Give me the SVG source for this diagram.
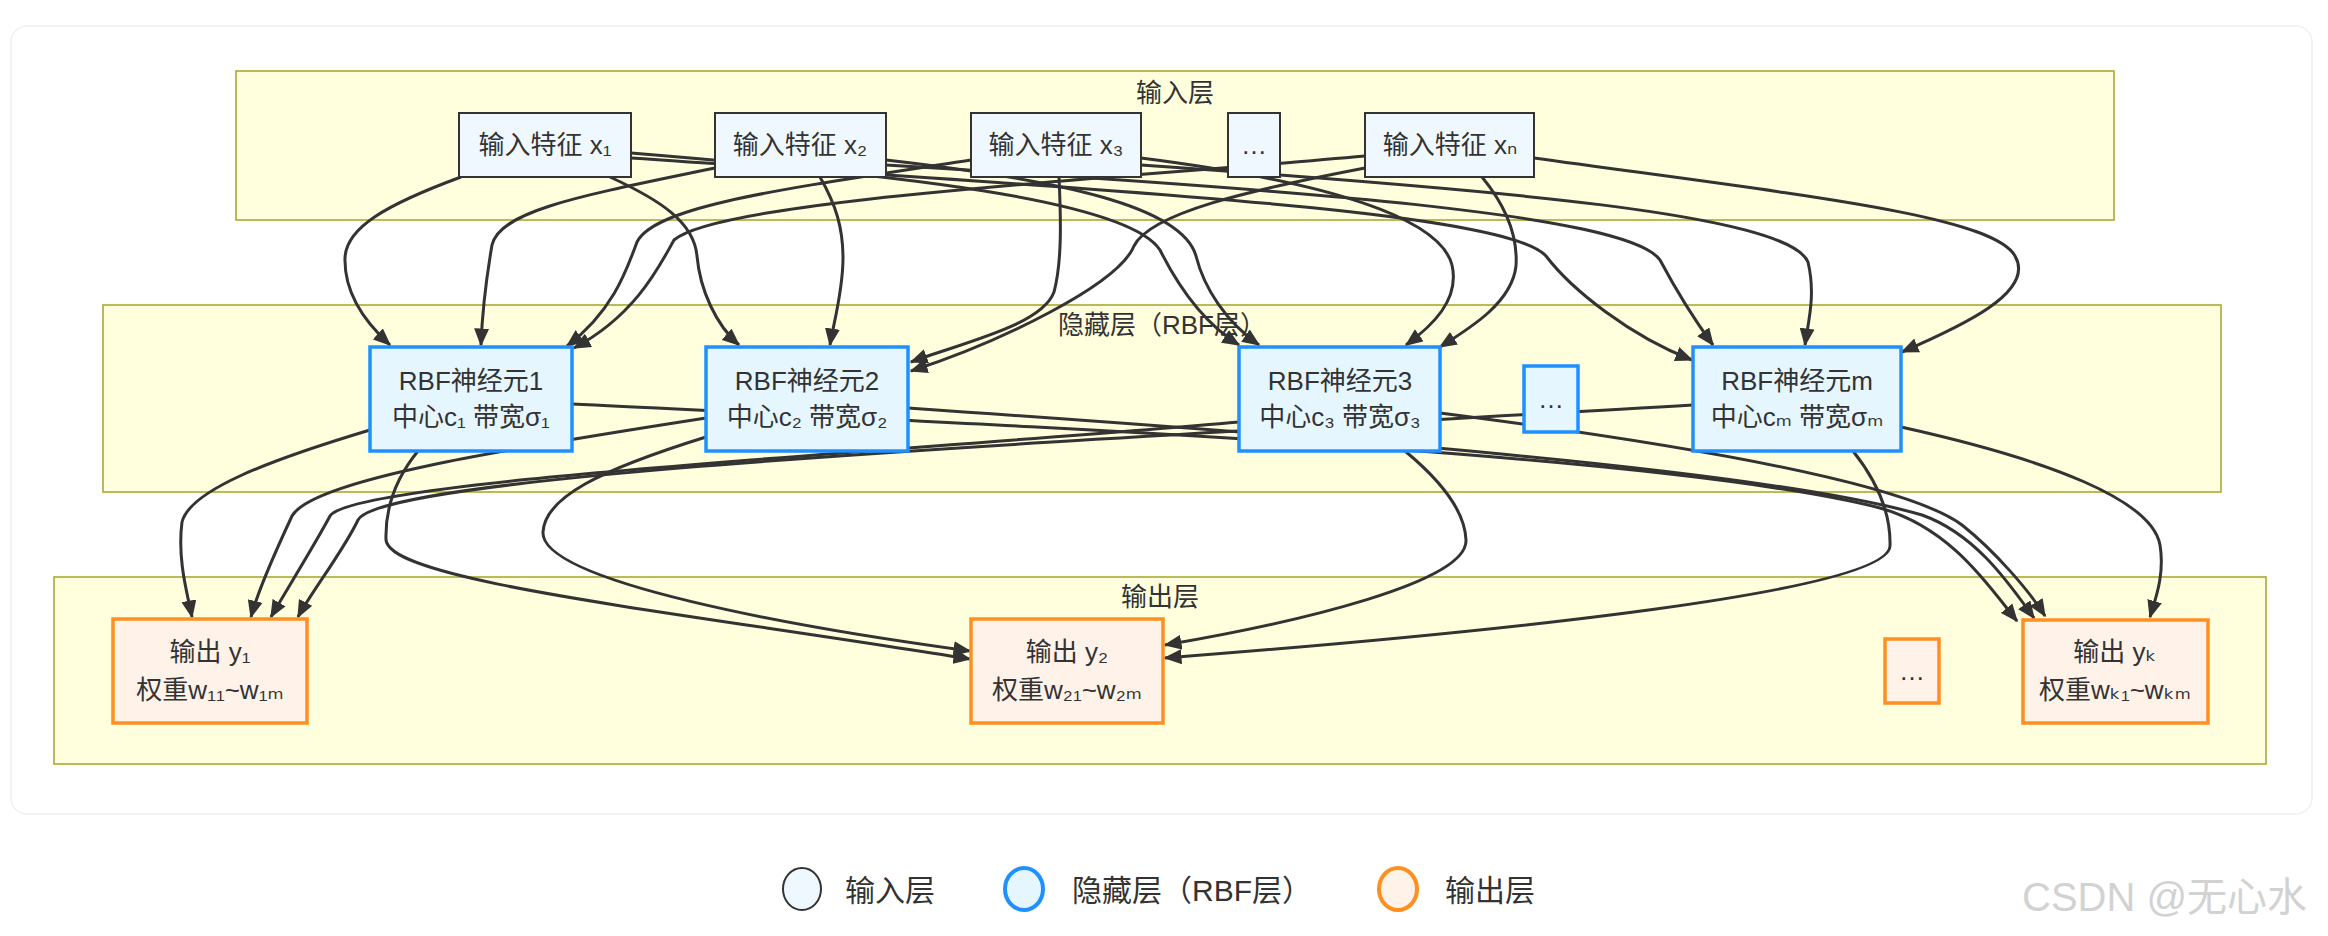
<svg xmlns="http://www.w3.org/2000/svg" width="2328" height="936" viewBox="0 0 2328 936">
<defs>
<marker id="arr" viewBox="0 0 12 10" refX="11" refY="5" markerWidth="18" markerHeight="15" markerUnits="userSpaceOnUse" orient="auto"><path d="M0,0 L12,5 L0,10 z" fill="#333"/></marker>
</defs>
<style>
text{font-family:"Liberation Sans","Noto Sans CJK SC","DejaVu Sans",sans-serif;fill:#333;}
.t{font-size:26px;text-anchor:middle;dominant-baseline:central;}
.cl{fill:#ffffde;stroke:#aaaa33;stroke-width:1.6;}
.in{fill:#f0f8ff;stroke:#333;stroke-width:2;}
.hd{fill:#e6f6ff;stroke:#1e90ff;stroke-width:3.5;}
.out{fill:#fff2e8;stroke:#ff8f1f;stroke-width:3.5;}
.e{fill:none;stroke:#333;stroke-width:3;marker-end:url(#arr);}
.lg{font-size:30px;dominant-baseline:central;}
</style>
<rect x="11" y="26" width="2301" height="788" rx="16" fill="#fff" stroke="#f0f0f0" stroke-width="1.5"/>
<g id="clusters">
<g id="input-layer"><rect class="cl" x="236" y="71" width="1878" height="149"/><text class="t" x="1175" y="93">输入层</text></g>
<g id="hidden-layer"><rect class="cl" x="103" y="305" width="2118" height="187"/><text class="t" x="1162" y="325">隐藏层（RBF层）</text></g>
<g id="output-layer"><rect class="cl" x="54" y="577" width="2212" height="187"/><text class="t" x="1160" y="597">输出层</text></g>
</g>
<g id="edges">
<path class="e" d="M 461 177 C 385 205, 346 228, 345 258 C 344 295, 368 325, 390 345"/>
<path class="e" d="M 715 168 C 585 195, 500 210, 492 245 C 486 280, 482 318, 481 345"/>
<path class="e" d="M 971 160 C 790 188, 655 205, 637 242 C 626 272, 612 312, 567 346"/>
<path class="e" d="M 1365 156 C 1100 180, 720 200, 674 240 C 660 265, 636 315, 574 348"/>
<path class="e" d="M 610 177 C 660 200, 694 222, 697 256 C 700 290, 716 325, 739 345"/>
<path class="e" d="M 820 177 C 836 205, 843 228, 843 258 C 843 292, 833 325, 830 345"/>
<path class="e" d="M 1059 177 C 1061 220, 1062 262, 1054 292 C 1042 325, 965 342, 911 362"/>
<path class="e" d="M 1365 168 C 1250 190, 1150 213, 1134 246 C 1118 285, 1000 342, 911 371"/>
<path class="e" d="M 631 153 C 900 175, 1128 200, 1160 250 C 1176 282, 1202 322, 1239 345"/>
<path class="e" d="M 886 160 C 1060 180, 1182 206, 1196 256 C 1204 288, 1226 322, 1259 345"/>
<path class="e" d="M 1141 158 C 1330 182, 1440 218, 1452 265 C 1460 300, 1432 326, 1406 345"/>
<path class="e" d="M 1482 177 C 1505 205, 1518 235, 1516 266 C 1512 302, 1472 327, 1440 347"/>
<path class="e" d="M 631 158 C 1100 190, 1505 210, 1546 256 C 1572 290, 1630 336, 1692 360"/>
<path class="e" d="M 886 165 C 1300 190, 1628 214, 1660 260 C 1676 290, 1696 322, 1713 345"/>
<path class="e" d="M 1141 165 C 1500 190, 1788 214, 1808 262 C 1816 296, 1808 322, 1805 345"/>
<path class="e" d="M 1534 158 C 1800 195, 1992 215, 2015 256 C 2036 292, 1962 326, 1902 352"/>
<path class="e" d="M 370 430 C 270 460, 190 490, 182 522 C 177 560, 188 596, 192 617"/>
<path class="e" d="M 418 451 C 396 478, 385 508, 386 540 C 390 582, 680 612, 970 659"/>
<path class="e" d="M 572 404 C 1000 425, 1660 452, 1880 508 C 1952 528, 1990 588, 2017 621"/>
<path class="e" d="M 706 418 C 500 450, 312 480, 292 516 C 278 546, 258 590, 251 617"/>
<path class="e" d="M 706 437 C 600 470, 545 497, 543 532 C 540 582, 800 628, 970 651"/>
<path class="e" d="M 908 408 C 1300 435, 1760 468, 1922 515 C 1978 535, 2012 588, 2034 618"/>
<path class="e" d="M 1239 422 C 900 452, 352 480, 330 516 C 314 546, 284 594, 271 617"/>
<path class="e" d="M 1405 451 C 1440 480, 1465 510, 1466 540 C 1468 582, 1300 622, 1165 645"/>
<path class="e" d="M 1440 413 C 1650 440, 1902 480, 1962 525 C 1996 552, 2030 592, 2045 616"/>
<path class="e" d="M 1693 405 C 1000 445, 382 475, 358 520 C 344 550, 310 594, 298 617"/>
<path class="e" d="M 1853 451 C 1876 480, 1891 512, 1890 546 C 1888 592, 1500 632, 1165 658"/>
<path class="e" d="M 1901 427 C 2050 460, 2152 500, 2160 545 C 2165 575, 2155 600, 2150 617"/>
</g>
<g id="x1"><rect class="in" x="459" y="113" width="172" height="64"/><text class="t" x="545" y="145">输入特征 x₁</text></g>
<g id="x2"><rect class="in" x="715" y="113" width="171" height="64"/><text class="t" x="800" y="145">输入特征 x₂</text></g>
<g id="x3"><rect class="in" x="971" y="113" width="170" height="64"/><text class="t" x="1056" y="145">输入特征 x₃</text></g>
<g id="xdots"><rect class="in" x="1228" y="113" width="52" height="64"/><text class="t" x="1254" y="145">…</text></g>
<g id="xn"><rect class="in" x="1365" y="113" width="169" height="64"/><text class="t" x="1450" y="145">输入特征 xₙ</text></g>
<g id="rbf1"><rect class="hd" x="370" y="347" width="202" height="104"/><text class="t" x="471" y="381">RBF神经元1</text><text class="t" x="471" y="417">中心c₁ 带宽σ₁</text></g>
<g id="rbf2"><rect class="hd" x="706" y="347" width="202" height="104"/><text class="t" x="807" y="381">RBF神经元2</text><text class="t" x="807" y="417">中心c₂ 带宽σ₂</text></g>
<g id="rbf3"><rect class="hd" x="1239" y="347" width="201" height="104"/><text class="t" x="1340" y="381">RBF神经元3</text><text class="t" x="1340" y="417">中心c₃ 带宽σ₃</text></g>
<g id="rbfdots"><rect class="hd" x="1524" y="366" width="54" height="66"/><text class="t" x="1551" y="399">…</text></g>
<g id="rbfm"><rect class="hd" x="1693" y="347" width="208" height="104"/><text class="t" x="1797" y="381">RBF神经元m</text><text class="t" x="1797" y="417">中心cₘ 带宽σₘ</text></g>
<g id="y1"><rect class="out" x="113" y="619" width="194" height="104"/><text class="t" x="210" y="652">输出 y₁</text><text class="t" x="210" y="690">权重w₁₁~w₁ₘ</text></g>
<g id="y2"><rect class="out" x="971" y="619" width="192" height="104"/><text class="t" x="1067" y="652">输出 y₂</text><text class="t" x="1067" y="690">权重w₂₁~w₂ₘ</text></g>
<g id="ydots"><rect class="out" x="1885" y="639" width="54" height="64"/><text class="t" x="1912" y="671">…</text></g>
<g id="yk"><rect class="out" x="2023" y="620" width="185" height="103"/><text class="t" x="2115" y="652">输出 yₖ</text><text class="t" x="2115" y="690">权重wₖ₁~wₖₘ</text></g>
<g id="legend">
<ellipse cx="802" cy="889" rx="19" ry="21" fill="#f0f8ff" stroke="#333" stroke-width="2"/>
<text class="lg" x="845" y="890">输入层</text>
<ellipse cx="1024" cy="889" rx="19" ry="21" fill="#e6f6ff" stroke="#1e90ff" stroke-width="4"/>
<text class="lg" x="1072" y="890">隐藏层（RBF层）</text>
<ellipse cx="1398" cy="889" rx="19" ry="21" fill="#fff2e8" stroke="#ff8f1f" stroke-width="4"/>
<text class="lg" x="1445" y="890">输出层</text>
</g>
<text x="2022" y="911" style="font-size:40px;fill:#d2d2d2;">CSDN @无心水</text>
</svg>
